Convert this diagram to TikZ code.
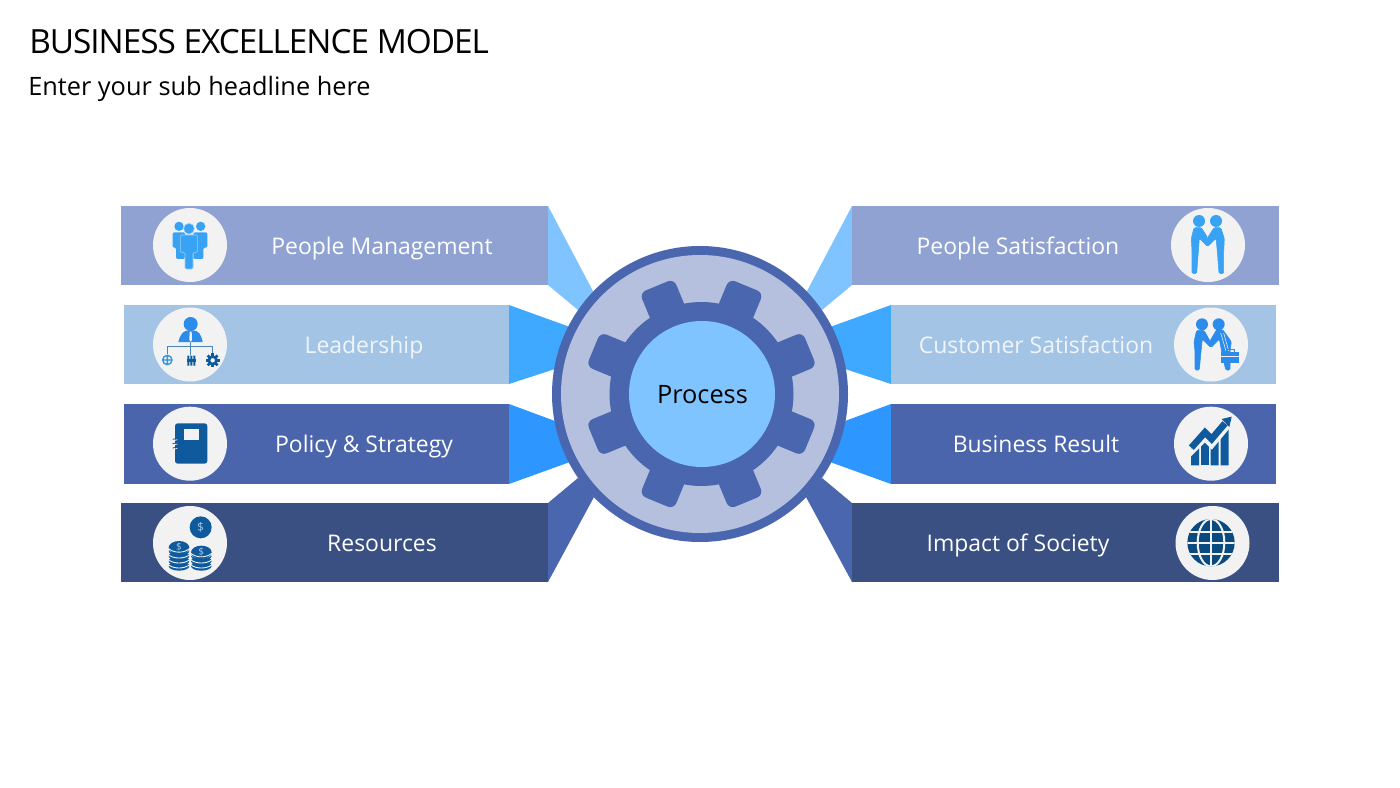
\documentclass[tikz,border=0pt]{standalone}
\usepackage{fontspec}
\setmainfont{Open Sans}
\definecolor{barA}{HTML}{8FA2D1}
\definecolor{barB}{HTML}{A3C4E4}
\definecolor{barC}{HTML}{4A65AB}
\definecolor{barD}{HTML}{3A4F82}
\definecolor{wedA}{HTML}{7FC4FF}
\definecolor{wedB}{HTML}{3FA9FF}
\definecolor{wedC}{HTML}{2E96FF}
\definecolor{wedD}{HTML}{4A66AE}
\definecolor{ringfill}{HTML}{B5C0DE}
\definecolor{disc}{HTML}{F2F2F2}
\definecolor{iconA}{HTML}{38A2F5}
\definecolor{iconB}{HTML}{2B8CEB}
\definecolor{iconC}{HTML}{0F5A9C}
\definecolor{iconD}{HTML}{0A4A7F}
\definecolor{liteText}{HTML}{F0F5FB}
\tikzset{
  zoomed/.style 2 args={shift={(#1,#2)},x=0.25pt,y=-0.25pt},
  barlabel/.style={text=white,font=\fontsize{17.2}{20}\selectfont,inner sep=0pt,anchor=base},
  barlight/.style={barlabel,text=liteText},
  icondisc/.style={fill=disc,draw=none},
}
\begin{document}
\begin{tikzpicture}[x=0.75pt,y=-0.75pt]
\useasboundingbox (0,0) rectangle (1400,788);
\fill[white] (0,0) rectangle (1400,788);
% wedges
\fill[wedA] (548,206) -- (594,293) -- (578,310) -- (548,285) -- cycle;
\fill[wedB] (509,305) -- (570,327) -- (555,369) -- (509,384) -- cycle;
\fill[wedC] (509,404) -- (555,421) -- (570,462) -- (509,484) -- cycle;
\fill[wedD] (548,503) -- (578,478) -- (594,497) -- (548,582) -- cycle;
\fill[wedA] (852,206) -- (806,293) -- (822,310) -- (852,285) -- cycle;
\fill[wedB] (891,305) -- (830,327) -- (845,369) -- (891,384) -- cycle;
\fill[wedC] (891,404) -- (845,421) -- (830,462) -- (891,484) -- cycle;
\fill[wedD] (852,503) -- (822,478) -- (806,497) -- (852,582) -- cycle;
% bars
\fill[barA] (121,206) rectangle (548,285);
\fill[barB] (124,305) rectangle (509,384);
\fill[barC] (124,404) rectangle (509,484);
\fill[barD] (121,503) rectangle (548,582);
\fill[barA] (852,206) rectangle (1279,285);
\fill[barB] (891,305) rectangle (1276,384);
\fill[barC] (891,404) rectangle (1276,484);
\fill[barD] (852,503) rectangle (1279,582);
% central wheel
\fill[wedD] (700,394) circle (148);
\fill[ringfill] (700,394) circle (139);
\fill[wedD] (701.5,394) circle (92);
\foreach \a in {22.5,67.5,...,337.5}{
  \fill[wedD,rounded corners=5pt,rotate around={\a:(701.5,394)}]
    (683,325) -- (683,277) -- (720,277) -- (720,325) -- cycle;
}
\fill[wedA] (702,394) circle (73);
\node[inner sep=0pt,font=\fontsize{19}{22}\selectfont,text=black] (process) at (702.5,395) {Process};
% discs
\foreach \n/\x/\y in {a/190/245,b/190/344.5,c/190/443.7,d/190/543,e/1208/245,f/1211/344.5,g/1211/443.7,h/1212.5/543}
  \fill[icondisc] (\x,\y) circle (37);
% People icon
\begin{scope}[zoomed={120}{195}]
  \fill[iconA] (177,94) circle (14) (242,94) circle (14);
  \fill[iconA,rounded corners=1pt] (158,112) -- (195,112) -- (195,192) -- (168,192) -- (168,158) -- (158,158) -- cycle;
  \fill[iconA,rounded corners=1pt] (262,112) -- (220,112) -- (220,192) -- (250,192) -- (250,158) -- (262,158) -- cycle;
  \fill[iconA,draw=iconA!45!disc,line width=0.4pt] (207,101) circle (16);
  \fill[iconA,draw=iconA!45!disc,line width=0.4pt,rounded corners=1pt] (181,120) -- (233,120) -- (233,172) -- (219,172) -- (219,222) -- (195,222) -- (195,172) -- (181,172) -- cycle;
  % Leadership icon
  \fill[iconB] (212,387) circle (21);
  \fill[iconB] (175,441) .. controls (182,415) and (190,408) .. (205,406) -- (219,406) .. controls (235,408) and (243,415) .. (248,441) -- cycle;
  \fill[disc] (209,410) -- (215,410) -- (216,434) -- (212,441) -- (208,434) -- cycle;
  \draw[iconC!75,line width=0.75pt] (142,478) -- (142,453) -- (278,453) -- (278,478) (212,441) -- (212,480);
  \draw[iconA!90!black,line width=1pt] (142,495) circle (14) (128,495) -- (156,495) (142,481) -- (142,509);
  \fill[iconC] (202,482) rectangle (208,512) (211,482) rectangle (217,512) (220,482) rectangle (226,512);
  \fill[iconC] (200,492) rectangle (228,500);
  \fill[iconC,even odd rule] (278,496) circle (16) (278,496) circle (7);
  \foreach \a in {0,45,...,315}{\fill[iconC,rotate around={\a:(278,496)}] (274,475) rectangle (282,484);}
\end{scope}
% Notebook and coins
\begin{scope}[zoomed={120}{395}]
  \fill[iconC,rounded corners=2pt] (165,85) rectangle (262,206);
  \fill[disc] (193,103) rectangle (236,135);
  \foreach \y in {133,146,159}{
    \draw[iconC,line width=0.6pt] (158,\y) -- (172,\y-3);
    \draw[disc,line width=0.5pt] (165,\y+3) -- (172,\y+1);
  }
  \fill[iconC] (242,397) circle (33);
  \node[text=barB,inner sep=0pt,font=\fontsize{9}{9}\selectfont] (coinTop) at (242,397) {\$};
  \foreach \x/\t/\b in {177/458/525,244/472/525}{
    \foreach \k in {0,1,2,3}{
      \pgfmathsetmacro{\cy}{\b-12-\k*15}
      \ifdim\cy pt>\t pt
      \fill[iconC] (\x,\cy) ellipse (31 and 14);
      \draw[disc,line width=0.65pt] (\x-31,\cy-3) .. controls (\x-15,\cy+9) and (\x+15,\cy+9) .. (\x+31,\cy-3);
      \fi
    }
    \fill[iconC] (\x,\t) ellipse (31 and 20);
    \draw[disc,line width=0.65pt] (\x-31,\t+3) .. controls (\x-15,\t+17) and (\x+15,\t+17) .. (\x+31,\t+3);
  }
  \node[text=barB,inner sep=0pt,font=\fontsize{7.5}{8}\selectfont] (coinL) at (177,456) {\$};
  \node[text=barB,inner sep=0pt,font=\fontsize{7.5}{8}\selectfont] (coinR) at (244,470) {\$};
\end{scope}
% Handshake icons
\begin{scope}[zoomed={1130}{195}]
  \fill[iconA] (207,78) circle (18) (258,78) circle (18);
  \filldraw[iconA,line width=0.4pt,rounded corners=1pt] (192,98) -- (214,98) -- (233,128) -- (233,155) -- (208,130) -- (205,170) -- (200,236) -- (186,236) -- (186,170) -- (184,130) -- cycle;
  \filldraw[iconA,line width=0.4pt,rounded corners=1pt] (272,98) -- (252,98) -- (233,128) -- (233,155) -- (258,130) -- (262,170) -- (267,236) -- (281,236) -- (281,170) -- (283,130) -- cycle;
  % second
  \fill[iconB] (216,388) circle (18) (266,388) circle (18);
  \filldraw[iconB,line width=0.4pt,rounded corners=1pt] (200,406) -- (222,406) -- (240,438) -- (243,458) -- (217,432) -- (213,470) -- (208,525) -- (195,525) -- (195,470) -- (192,440) -- cycle;
  \filldraw[iconB,line width=0.4pt,rounded corners=1pt] (278,404) -- (260,404) -- (240,438) -- (243,458) -- (268,432) -- (275,470) -- (287,525) -- (300,525) -- (300,470) -- (304,440) -- cycle;
  \draw[disc,line width=0.4pt] (272,414) -- (288,468) (281,414) -- (296,468);
  \fill[iconB] (272,470) rectangle (327,505);
  \draw[disc,line width=0.5pt] (272,484) -- (327,484);
  \draw[iconB,line width=0.6pt] (288,470) -- (288,464) -- (312,464) -- (312,470);
\end{scope}
% Chart and globe icons
\begin{scope}[zoomed={1130}{395}]
  \fill[iconC] (183,211) -- (183,160) -- (207,150) -- (207,211) -- cycle;
  \fill[iconC] (212,211) -- (212,130) -- (236,130) -- (236,211) -- cycle;
  \fill[iconC] (242,211) -- (242,130) -- (266,115) -- (266,211) -- cycle;
  \fill[iconC] (272,211) -- (272,100) -- (296,85) -- (296,211) -- cycle;
  \draw[disc,line width=4pt,line join=miter] (172,184) -- (225,131) -- (245,152) -- (300,86);
  \draw[iconC,line width=5pt,line join=miter] (184,158) -- (225,112) -- (245,132) -- (285,85);
  \fill[iconC] (275,72) -- (305,65) -- (298,96) -- cycle;
  \fill[iconD] (243,443) circle (71);
  \begin{scope}
    \clip (243,443) circle (71);
    \draw[disc,line width=1.5pt] (165,410) -- (321,410) (165,444) -- (321,444) (165,478) -- (321,478) (243,365) -- (243,521);
    \draw[disc,line width=1.5pt] (243,443) ellipse (40 and 71);
  \end{scope}
\end{scope}
% texts
\node[inner sep=0pt,anchor=base west,font=\fontsize{25}{28}\selectfont,text=black] (title) at (29,54) {\addfontfeature{LetterSpace=-3}BUSINESS EXCELLENCE MODEL};
\node[inner sep=0pt,anchor=base west,font=\fontsize{19}{22}\selectfont,text=black] (sub) at (28,96) {Enter your sub headline here};
\node[barlabel] (l1) at (382,254) {People Management};
\node[barlight] (l2) at (364,353) {Leadership};
\node[barlabel] (l3) at (364,452) {Policy \& Strategy};
\node[barlabel] (l4) at (382,551.5) {Resources};
\node[barlabel] (r1) at (1018,254) {People Satisfaction};
\node[barlight] (r2) at (1036,353) {Customer Satisfaction};
\node[barlabel] (r3) at (1036,452) {Business Result};
\node[barlabel] (r4) at (1018,551.5) {Impact of Society};
\end{tikzpicture}
\end{document}
